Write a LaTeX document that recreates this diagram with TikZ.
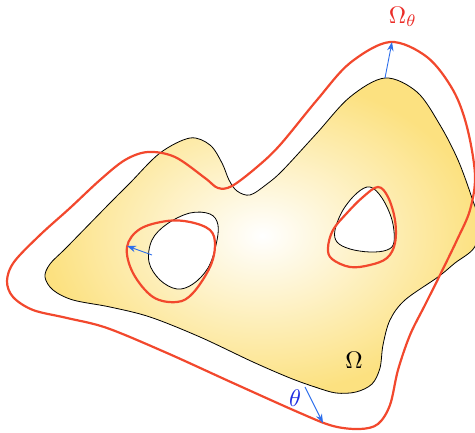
\documentclass[tikz,border=0pt]{standalone}
\usetikzlibrary{arrows.meta}
\definecolor{goldy}{RGB}{252,225,128}
\definecolor{redline}{RGB}{242,72,45}
\definecolor{bluearrow}{RGB}{45,110,235}
\definecolor{bluetext}{RGB}{30,45,225}
\definecolor{redtext}{RGB}{235,45,40}
\tikzset{
  blackline/.style={draw=black, line width=0.8pt},
  redcurve/.style={draw=redline, line width=2.2pt},
  normalarrow/.style={draw=bluearrow, line width=0.9pt, -{Stealth[length=9pt,width=6.5pt]}},
  biglabel/.style={scale=2.4, inner sep=0pt}
}
\begin{document}
\begin{tikzpicture}[x=1pt,y=-1pt]
\useasboundingbox (0,0) rectangle (475,433);
% outer domain shading
\shade[inner color=white, outer color=goldy]
  plot[smooth cycle, tension=0.55] coordinates {
  (385,78) (417,92) (440,125) (458,160) (472,198) (480,225) (474,248) (455,263) (438,277) (405,300) (390,320) (383,345) (380,368) (372,384) (356,392) (336,393) (315,387) (290,378) (253,362) (200,337) (150,317) (110,307) (73,300) (53,290) (45,277) (50,264) (67,247) (110,203) (130,183) (160,153) (190,138) (210,145) (222,163) (229,180) (237,191) (250,195) (267,184) (283,170) (317,133) (350,97)};
% holes
\fill[white] plot[smooth cycle, tension=0.6] coordinates {
  (190,213) (210,214) (218,225) (216,245) (208,268) (193,284) (177,289) (160,280) (149,262) (152,240) (167,224)};
\fill[white] plot[smooth cycle, tension=0.6] coordinates {
  (370,187) (382,198) (392,220) (394,242) (387,250) (370,252) (350,249) (337,242) (335,230) (343,210) (357,193)};
% black outlines
\draw[blackline] plot[smooth cycle, tension=0.55] coordinates {
  (385,78) (417,92) (440,125) (458,160) (472,198) (480,225) (474,248) (455,263) (438,277) (405,300) (390,320) (383,345) (380,368) (372,384) (356,392) (336,393) (315,387) (290,378) (253,362) (200,337) (150,317) (110,307) (73,300) (53,290) (45,277) (50,264) (67,247) (110,203) (130,183) (160,153) (190,138) (210,145) (222,163) (229,180) (237,191) (250,195) (267,184) (283,170) (317,133) (350,97)};
\draw[blackline] plot[smooth cycle, tension=0.6] coordinates {
  (190,213) (210,214) (218,225) (216,245) (208,268) (193,284) (177,289) (160,280) (149,262) (152,240) (167,224)};
\draw[blackline] plot[smooth cycle, tension=0.6] coordinates {
  (370,187) (382,198) (392,220) (394,242) (387,250) (370,252) (350,249) (337,242) (335,230) (343,210) (357,193)};
% red offset curves
\draw[redcurve] plot[smooth cycle, tension=0.55] coordinates {
  (390,42) (427,57) (453,90) (467,127) (475,175) (470,210) (457,240) (440,275) (425,305) (410,335) (398,370) (390,405) (378,424) (360,429) (333,426) (300,413) (233,383) (167,353) (107,328) (67,318) (33,310) (13,297) (7,281) (14,262) (40,235) (70,208) (100,180) (125,160) (148,152) (175,157) (205,178) (218,188) (232,186) (257,167) (280,145) (317,100) (350,63)};
\draw[redcurve] plot[smooth cycle, tension=0.6] coordinates {
  (127,247) (133,273) (153,297) (177,302) (193,293) (210,267) (215,245) (210,230) (190,222) (167,221) (140,229)};
\draw[redcurve] plot[smooth cycle, tension=0.6] coordinates {
  (378,187) (388,197) (395,220) (395,243) (387,258) (370,265) (350,267) (332,259) (328,248) (333,230) (347,213) (363,197)};
% arrows
\coordinate (topA) at (385,78);
\coordinate (topB) at (392,42);
\coordinate (holeA) at (152,255);
\coordinate (holeB) at (127,246);
\coordinate (botA) at (305,387);
\coordinate (botB) at (323,423);
\draw[normalarrow] (topA) -- (topB);
\draw[normalarrow] (holeA) -- (holeB);
\draw[normalarrow] (botA) -- (botB);
% labels
\node[biglabel, text=redtext] (omegatheta) at (403,17) {$\Omega_\theta$};
\node[biglabel, text=bluetext] (thetalabel) at (295,398) {$\theta$};
\node[biglabel] (omegalabel) at (354,360) {$\Omega$};
\end{tikzpicture}
\end{document}
